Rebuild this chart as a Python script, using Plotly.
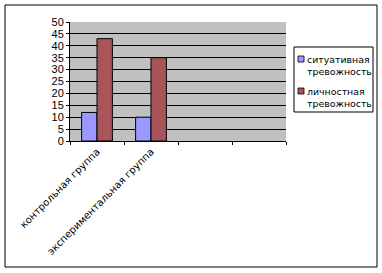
import plotly.graph_objects as go

categories = ["контрольная группа", "экспериментальная группа", " ", "  "]
situational = [12, 10, None, None]
personal = [43, 35, None, None]
series_names = ["ситуативная<br>тревожность", "личностная<br>тревожность"]
series_colors = ["#9999ff", "#a8555a"]
y_ticks = list(range(0, 51, 5))

W, H = 382, 273
L, R, T, B = 70, 96, 22, 132
pw, ph = W - L - R, H - T - B

def px_x(x):
    return (x - L) / pw

def px_y(y):
    return (H - B - y) / ph

fig = go.Figure()
for vals, name, col in zip([situational, personal], series_names, series_colors):
    fig.add_trace(go.Bar(x=categories, y=vals, name=name, showlegend=False,
                         marker=dict(color=col, line=dict(color="black", width=1))))

shapes = [
    dict(type="rect", xref="paper", yref="paper",
         x0=px_x(5), x1=px_x(377), y0=px_y(267), y1=px_y(5),
         line=dict(color="black", width=1), layer="below"),
    dict(type="rect", xref="paper", yref="paper",
         x0=px_x(294), x1=px_x(373), y0=px_y(112), y1=px_y(47),
         fillcolor="white", line=dict(color="black", width=1)),
]
annotations = []
entry_tops = [59, 91]
for name, col, yc in zip(series_names, series_colors, entry_tops):
    shapes.append(dict(type="rect", xref="paper", yref="paper",
                       x0=px_x(298), x1=px_x(304), y0=px_y(yc + 3), y1=px_y(yc - 3),
                       fillcolor=col, line=dict(color="black", width=0.8)))
    annotations.append(dict(text=name, xref="paper", yref="paper",
                            x=px_x(305), y=px_y(yc - 7), xanchor="left", yanchor="top",
                            align="left", showarrow=False,
                            font=dict(size=9.4, family="DejaVu Sans, Verdana, sans-serif")))

fig.update_layout(
    width=W, height=H,
    margin=dict(l=L, r=R, t=T, b=B, pad=0, autoexpand=False),
    paper_bgcolor="white",
    plot_bgcolor="#c0c0c0",
    barmode="group",
    bargap=0.43,
    bargroupgap=0,
    font=dict(family="Liberation Sans, Arial, sans-serif", size=11, color="black"),
    showlegend=False,
    xaxis=dict(type="category", tickangle=-45, showline=True, linecolor="black",
               linewidth=1, ticks="outside", ticklen=3, tickcolor="black",
               tickson="boundaries", showgrid=False,
               tickfont=dict(size=10, family="DejaVu Sans, Verdana, sans-serif"),
               automargin=False),
    yaxis=dict(range=[0, 50], tickvals=y_ticks, showline=True, linecolor="black",
               linewidth=1, ticks="outside", ticklen=3, tickcolor="black",
               showgrid=True, gridcolor="black", gridwidth=1, zeroline=False,
               tickfont=dict(size=11), automargin=False),
    shapes=shapes,
    annotations=annotations,
)

fig.write_html("out.html")
